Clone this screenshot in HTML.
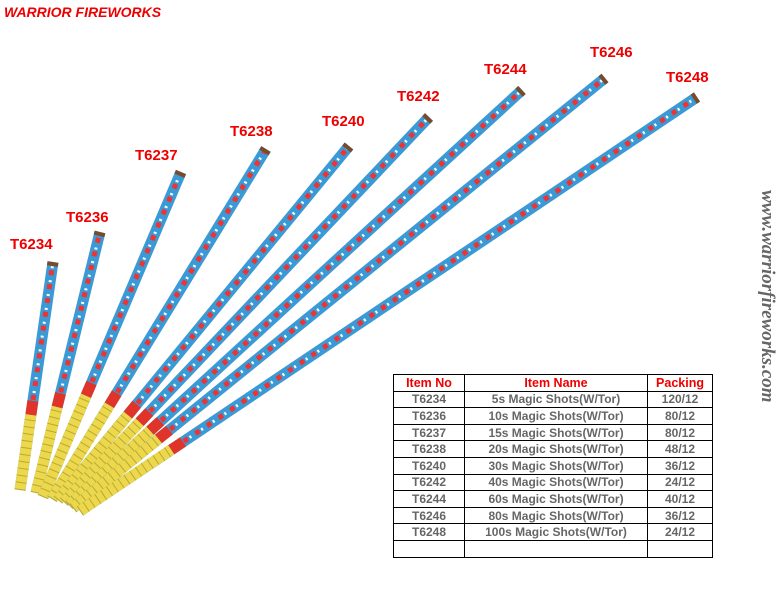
<!DOCTYPE html>
<html><head><style>
body{margin:0;width:778px;height:604px;background:#fff;position:relative;overflow:hidden;font-family:"Liberation Sans",Arial,sans-serif}
.t{position:absolute;font-weight:bold;color:#e00;font-size:15px}
table{position:absolute;left:393px;top:374px;border-collapse:collapse;width:320px}
td{border:1px solid #000;height:15.6px;padding:0;text-align:center;font-size:12px;font-weight:bold;color:#666;line-height:14px}
tr:first-child td{color:#e00;font-size:12.5px}
</style></head><body>
<div class="t" style="left:4px;top:4px;font-size:14px;font-style:italic">WARRIOR FIREWORKS</div>
<svg width="778" height="604" style="position:absolute;left:0;top:0">
<g stroke-linecap="butt" fill="none" id="s"></g>
</svg>
<div class="t" style="left:10px;top:236px">T6234</div>
<div class="t" style="left:66px;top:209px">T6236</div>
<div class="t" style="left:135px;top:147px">T6237</div>
<div class="t" style="left:230px;top:123px">T6238</div>
<div class="t" style="left:322px;top:113px">T6240</div>
<div class="t" style="left:397px;top:88px">T6242</div>
<div class="t" style="left:484px;top:61px">T6244</div>
<div class="t" style="left:590px;top:44px">T6246</div>
<div class="t" style="left:666px;top:69px">T6248</div>
<div style="position:absolute;top:190px;left:778px;transform-origin:0 0;transform:rotate(90deg);font-family:'Liberation Serif',serif;font-style:italic;font-weight:bold;font-size:19px;color:#666;white-space:nowrap">www.warriorfireworks.com</div>
<table>
<tr><td style="width:70px">Item No</td><td style="width:182px">Item Name</td><td>Packing</td></tr>
<tr><td>T6234</td><td>5s Magic Shots(W/Tor)</td><td>120/12</td></tr>
<tr><td>T6236</td><td>10s Magic Shots(W/Tor)</td><td>80/12</td></tr>
<tr><td>T6237</td><td>15s Magic Shots(W/Tor)</td><td>80/12</td></tr>
<tr><td>T6238</td><td>20s Magic Shots(W/Tor)</td><td>48/12</td></tr>
<tr><td>T6240</td><td>30s Magic Shots(W/Tor)</td><td>36/12</td></tr>
<tr><td>T6242</td><td>40s Magic Shots(W/Tor)</td><td>24/12</td></tr>
<tr><td>T6244</td><td>60s Magic Shots(W/Tor)</td><td>40/12</td></tr>
<tr><td>T6246</td><td>80s Magic Shots(W/Tor)</td><td>36/12</td></tr>
<tr><td>T6248</td><td>100s Magic Shots(W/Tor)</td><td>24/12</td></tr>
<tr><td>&nbsp;</td><td></td><td></td></tr>
</table>
<script>
var S=[[20,490,53,262],[36,493,100,232],[43,497,181,172],[52,499,266,149],[58,500,349,146],[64,502,429,117],[69,505,522,90],[73,508,605,78],[80,511,697,97]];
var g=document.getElementById('s'),h='';
S.forEach(function(s){var dx=s[2]-s[0],dy=s[3]-s[1],L=Math.hypot(dx,dy),ux=dx/L,uy=dy/L;
function p(t){return (s[0]+ux*t).toFixed(1)+','+(s[1]+uy*t).toFixed(1)}
function seg(a,b,c,w,da){h+='<polyline points="'+p(a)+' '+p(b)+'" stroke="'+c+'" stroke-width="'+w+'"'+(da?' stroke-dasharray="'+da+'"':'')+'/>';}
var y=Math.min(110,L*0.33);
seg(0,L,'#3a9ad6',11);
seg(y+15,L-4,'#e33',5,'5 9');
seg(y+22,L-4,'#fff',3,'2 12');
seg(0,y,'#ecd84a',11);
seg(0,y,'#b9a83a',11,'1 6');
seg(y,y+14,'#e0342a',11);
seg(L-4,L,'#7a4a2a',11);
});
g.innerHTML=h;
</script>
</body></html>
